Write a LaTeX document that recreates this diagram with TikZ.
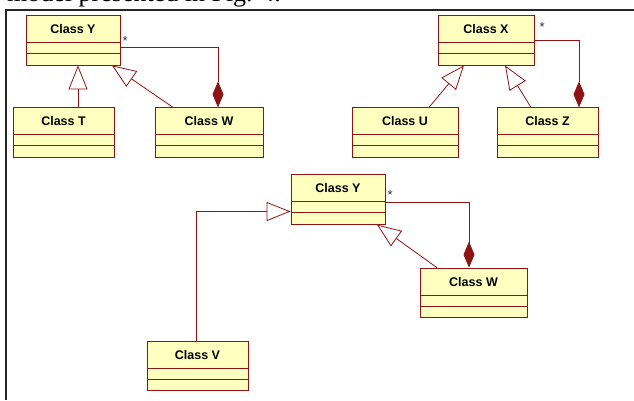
\documentclass[tikz,border=0pt]{standalone}
\usepackage{fontspec}
\setmainfont{Liberation Serif}
\setsansfont{Liberation Sans}
\usetikzlibrary{arrows.meta,positioning}
\definecolor{umlred}{RGB}{140,20,20}
\definecolor{umlfill}{RGB}{255,255,192}
\tikzset{
  classbox/.style={
    rectangle,
    draw=umlred,
    fill=umlfill,
    line width=0.8pt,
    inner sep=0pt,
    minimum width=#1,
    text height=18pt,
    text depth=31.5pt,
    font=\sffamily\bfseries\fontsize{12.5}{14}\selectfont,
    path picture={
      \draw[umlred, line width=0.8pt]
        ([yshift=22.5pt]path picture bounding box.south west) -- ([yshift=22.5pt]path picture bounding box.south east)
        ([yshift=11.5pt]path picture bounding box.south west) -- ([yshift=11.5pt]path picture bounding box.south east);
    }
  },
  classbox/.default=100pt,
  gen/.style={
    -{Triangle[open, length=24pt, width=19pt]},
    draw=umlred,
    line width=0.8pt
  },
  comp/.style={
    -{Diamond[length=26pt, width=11pt]},
    draw=umlred,
    line width=0.8pt
  },
  mult/.style={
    font=\sffamily\fontsize{13}{14}\selectfont,
    inner sep=1pt,
    text=black!80
  },
  frame/.style={
    draw=black!85,
    line width=2pt
  }
}

\begin{document}
\begin{tikzpicture}[x=1pt, y=-1pt]
  \useasboundingbox (0,0) rectangle (634,400);
  \clip (0,0) rectangle (634,400);

  % page text cut off above the figure
  \node[anchor=base west, inner sep=0pt, font=\fontsize{26}{28}\selectfont] (hdr) at (7,1.5) {model presented in Fig. 4.};
  \draw[frame] (6,400) -- (6,9.5) -- (634,9.5);

  % first model
  \node[classbox=94pt] (Ya) at (73,40.25) {Class Y};
  \node[classbox=101pt, below=42pt of Ya, xshift=-9.5pt] (Ta) {Class T};
  \node[classbox=108pt, below=42pt of Ya, xshift=136pt] (Wa) {Class W};

  % second model
  \node[classbox=96pt] (Xa) at (486,40.25) {Class X};
  \node[classbox=106pt, below=42pt of Xa, xshift=-81pt] (Ua) {Class U};
  \node[classbox=101pt, below=42pt of Xa, xshift=61.5pt] (Za) {Class Z};

  % merged model
  \node[classbox=94pt] (Yb) at (338,199.5) {Class Y};
  \node[classbox=107pt, below=43pt of Yb, xshift=135.5pt] (Wb) {Class W};
  \node[classbox=101pt, below=116pt of Yb, xshift=-140.5pt] (Vb) {Class V};

  \draw[gen] ([xshift=14.5pt]Ta.north) -- ([xshift=5pt]Ya.south);
  \draw[gen] ([xshift=-36pt]Wa.north) -- ([xshift=39pt]Ya.south);
  \draw[comp] ([yshift=-7.5pt]Ya.east) -| ([xshift=9pt]Wa.north);
  \node[mult, anchor=south west] (ma) at ([xshift=1pt,yshift=-6pt]Ya.east) {*};

  \draw[gen] ([xshift=24pt]Ua.north) -- ([xshift=-22pt]Xa.south);
  \draw[gen] ([xshift=-16.5pt]Za.north) -- ([xshift=19pt]Xa.south);
  \draw[comp] (Xa.east) -| ([xshift=31.5pt]Za.north);
  \node[mult, anchor=south west] (mx) at ([xshift=4pt,yshift=8pt]Xa.east) {*};

  \draw[gen] ([xshift=-1.5pt]Vb.north) |- ([yshift=-12pt]Yb.west);
  \draw[gen] ([xshift=-36.5pt]Wb.north) -- ([xshift=39pt]Yb.south);
  \draw[comp] ([yshift=-3pt]Yb.east) -| ([xshift=-4.5pt]Wb.north);
  \node[mult, anchor=south west] (mb) at ([xshift=1pt,yshift=-1.5pt]Yb.east) {*};
\end{tikzpicture}
\end{document}
